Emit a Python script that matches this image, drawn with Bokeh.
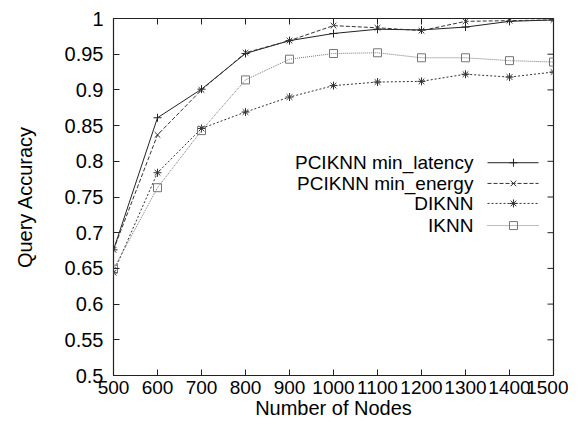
from bokeh.plotting import figure
from bokeh.models import Range1d, FixedTicker
from bokeh.core.properties import value
from bokeh.embed import file_html
from bokeh.resources import INLINE

# ---- data ----
nodes = [500, 600, 700, 800, 900, 1000, 1100, 1200, 1300, 1400, 1500]
min_latency = [0.676, 0.861, 0.901, 0.951, 0.969, 0.979, 0.985, 0.984, 0.988, 0.996, 0.998]
min_energy = [0.676, 0.837, 0.900, 0.952, 0.969, 0.990, 0.987, 0.983, 0.996, 0.997, 0.998]
diknn = [0.644, 0.784, 0.846, 0.869, 0.890, 0.906, 0.911, 0.912, 0.922, 0.918, 0.925]
iknn = [0.649, 0.763, 0.843, 0.914, 0.943, 0.951, 0.952, 0.945, 0.945, 0.941, 0.939]
series_names = ["PCIKNN min_latency", "PCIKNN min_energy", "DIKNN", "IKNN"]
x_ticks = [500, 600, 700, 800, 900, 1000, 1100, 1200, 1300, 1400, 1500]
y_ticks = [0.5, 0.55, 0.6, 0.65, 0.7, 0.75, 0.8, 0.85, 0.9, 0.95, 1.0]
y_tick_labels = ["0.5", "0.55", "0.6", "0.65", "0.7", "0.75", "0.8", "0.85", "0.9", "0.95", "1"]

FONT = "Liberation Sans"
FS_XTICK = "19px"
FS_YTICK = "20px"
FS_AXIS = "20px"
FS_LEG = "19px"
X0, X1, Y0, Y1 = 500, 1500, 0.5, 1.0
FRAME_W, FRAME_H = 440, 357
TICK_PX = 6

p = figure(width=568, height=424, output_backend="svg", toolbar_location=None,
           x_range=Range1d(X0, X1), y_range=Range1d(Y0, Y1),
           min_border_left=113, min_border_right=15, min_border_top=18, min_border_bottom=49)
p.grid.visible = False
p.outline_line_color = "#222222"
p.outline_line_width = 1.2
p.background_fill_color = "white"
p.border_fill_color = "white"

xa = p.xaxis[0]
xa.ticker = FixedTicker(ticks=x_ticks)
xa.major_label_overrides = {t: str(t) for t in x_ticks}
xa.axis_label = "Number of Nodes"
ya = p.yaxis[0]
ya.ticker = FixedTicker(ticks=y_ticks)
ya.major_label_overrides = {t: l for t, l in zip(y_ticks, y_tick_labels)}
ya.axis_label = "Query Accuracy"

for ax in (xa, ya):
    ax.major_tick_in = TICK_PX
    ax.major_tick_out = 0
    ax.minor_tick_line_color = None
    ax.axis_line_color = None
    ax.major_tick_line_color = "#222222"
    ax.major_label_text_font = FONT
    ax.major_label_text_color = "black"
    ax.axis_label_text_font = FONT
    ax.axis_label_text_font_size = FS_AXIS
    ax.axis_label_text_font_style = "normal"
    ax.axis_label_text_color = "black"
xa.major_label_text_font_size = FS_XTICK
ya.major_label_text_font_size = FS_YTICK
xa.major_label_standoff = 5
xa.axis_label_standoff = 0
ya.major_label_standoff = 10
ya.axis_label_standoff = 26

# mirrored ticks on the top and right edges (drawn from the tick arrays)
dy = TICK_PX / FRAME_H * (Y1 - Y0)
dx = TICK_PX / FRAME_W * (X1 - X0)
p.segment(x0=x_ticks, y0=[Y1] * len(x_ticks), x1=x_ticks, y1=[Y1 - dy] * len(x_ticks),
          line_color="#222222", line_width=1)
p.segment(x0=[X1] * len(y_ticks), y0=y_ticks, x1=[X1 - dx] * len(y_ticks), y1=y_ticks,
          line_color="#222222", line_width=1)

styles = [
    dict(color="#222222", dash="solid", marker="cross", lw=1.0),
    dict(color="#333333", dash="4 2", marker="x", lw=1.0),
    dict(color="#333333", dash="2 2", marker="asterisk", lw=1.0),
    dict(color="#777777", dash="1 1", marker="square", lw=1.0),
]
values = [min_latency, min_energy, diknn, iknn]

for vals, st in zip(values, styles):
    p.line(nodes, vals, line_color=st["color"], line_dash=st["dash"], line_width=st["lw"])
    p.scatter(nodes, vals, marker=st["marker"], size=8, line_color=st["color"],
              fill_color=None, line_width=1.0)

# legend (gnuplot style: right-aligned label, sample on the right)
leg_x0, leg_x1, leg_xm, leg_tx = 1350, 1466, 1409, 1318
leg_rows = [0.798, 0.769, 0.741, 0.710]
for name, y, st in zip(series_names, leg_rows, styles):
    p.line([leg_x0, leg_x1], [y, y], line_color=st["color"], line_dash=st["dash"], line_width=st["lw"])
    p.scatter([leg_xm], [y], marker=st["marker"], size=8, line_color=st["color"],
              fill_color=None, line_width=1.0)
    p.text([leg_tx], [y], text=[name], text_align="right", text_baseline="middle",
           text_font=value(FONT), text_font_size=FS_LEG, text_color="black")

open("out.html", "w").write(file_html(p, INLINE))
